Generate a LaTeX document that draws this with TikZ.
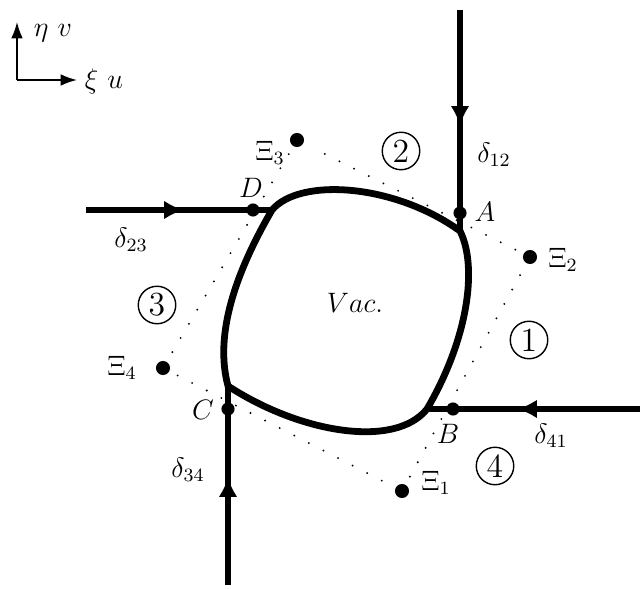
\documentclass[tikz,border=0pt]{standalone}
\usepackage{amsmath}
\usetikzlibrary{arrows.meta, positioning, calc}
\tikzset{>={Latex[length=8.5pt,width=8pt]}}
\tikzset{
  flux/.style={line width=2.4pt},
  vacline/.style={line width=2.9pt, line join=miter},
  crosspt/.style={circle, fill, inner sep=0pt, minimum size=5.6pt},
  xipt/.style={circle, fill, inner sep=0pt, minimum size=6pt, outer sep=4pt},
  hull/.style={line width=0.9pt, dash pattern=on 0pt off 7pt, line cap=round},
  region/.style={circle, draw, line width=0.6pt, inner sep=0pt, minimum size=16pt, font=\Large},
  axis/.style={line width=0.7pt, -{Latex[length=7pt,width=5pt]}}
}

\begin{document}
\begin{tikzpicture}[x=0.015cm, y=0.015cm, every node/.style={font=\large}]
        \useasboundingbox (0,0) rectangle (640,589);

        % Axes
        \coordinate (orig) at (17,509);
        \coordinate (upax) at (17,567);
        \coordinate (rtax) at (77,509);
        \draw[axis] (orig) -- (upax);
        \draw[axis] (orig) -- (rtax);
        \node (etav) at (53,556) {$\eta\ v$};
        \node (xiu) at (104,508) {$\xi\ u$};

        % Corners of the vacuum region
        \coordinate (Ac) at (460,358);
        \coordinate (Dc) at (272,379);
        \coordinate (Cc) at (228,203);
        \coordinate (Bc) at (427,180);

        % Incoming fluxes
        \coordinate (topend) at (460,579);
        \coordinate (leftend) at (86,379);
        \coordinate (rightend) at (640,180);
        \coordinate (botend) at (228,4);
        \coordinate (tip12) at (460,463);
        \coordinate (tip23) at (184,379);
        \coordinate (tip41) at (517,180);
        \coordinate (tip34) at (228,112);
        \draw[flux] (topend) -- (Ac);
        \draw[flux,->] (topend) -- (tip12);
        \draw[flux] (leftend) -- (Dc);
        \draw[flux,->] (leftend) -- (tip23);
        \draw[flux] (rightend) -- (Bc);
        \draw[flux,->] (rightend) -- (tip41);
        \draw[flux] (botend) -- (Cc);
        \draw[flux,->] (botend) -- (tip34);

        % Vacuum boundary
        \draw[vacline] (Ac) .. controls (395,405) and (300,412) .. (Dc)
          .. controls (236,317) and (214,255) .. (Cc)
          .. controls (300,156) and (395,140) .. (Bc)
          .. controls (468,250) and (478,322) .. (Ac) -- cycle;
        \node (vac) at (355,286) {$Vac.$};

        % Crossing points
        \node[crosspt] (A) at (460,376) {};
        \node[crosspt] (B) at (453,180) {};
        \node[crosspt] (C) at (228,180) {};
        \node[crosspt] (D) at (253,379) {};
        \node (labA) at (485,377) {$A$};
        \node (labB) at (448,155) {$B$};
        \node (labC) at (203,179) {$C$};
        \node (labD) at (251,401) {$D$};

        % Xi points and dotted hull
        \node[xipt] (xi1) at (402,98) {};
        \node[xipt] (xi2) at (530,332) {};
        \node[xipt] (xi3) at (297,449) {};
        \node[xipt] (xi4) at (163,221) {};
        \draw[hull] (xi1) -- (xi2);
        \draw[hull] (xi2) -- (xi3);
        \draw[hull] (xi3) -- (xi4);
        \draw[hull] (xi4) -- (xi1);
        \node (labxi1) at (436,106) {$\Xi_1$};
        \node (labxi2) at (563,329) {$\Xi_2$};
        \node (labxi3) at (270,436) {$\Xi_3$};
        \node (labxi4) at (122,221) {$\Xi_4$};

        % Flux labels
        \node (d12) at (494,434) {$\delta_{12}$};
        \node (d23) at (131,349) {$\delta_{23}$};
        \node (d34) at (188,119) {$\delta_{34}$};
        \node (d41) at (551,153) {$\delta_{41}$};

        % Region numbers
        \node[region] (r1) at (529,249) {1};
        \node[region] (r2) at (401,438) {2};
        \node[region] (r3) at (157,284) {3};
        \node[region] (r4) at (495,123) {4};
      \end{tikzpicture}
\end{document}
